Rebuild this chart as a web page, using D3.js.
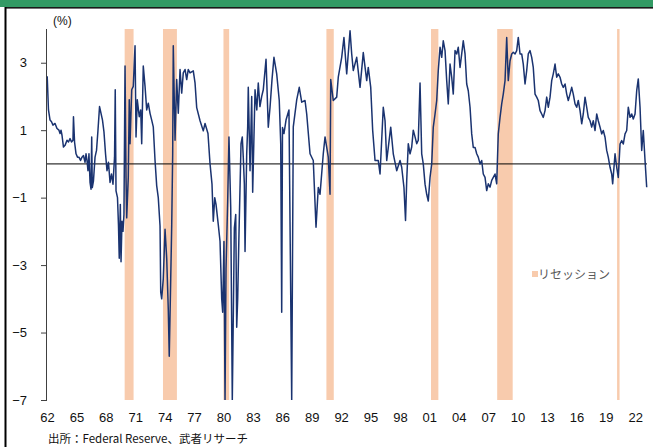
<!DOCTYPE html>
<html><head><meta charset="utf-8">
<script src="https://cdn.jsdelivr.net/npm/d3@7"></script>
<style>body{margin:0;background:#fff}svg{display:block}</style>
</head><body><svg id="c" width="653" height="447"></svg>
<script>
// decimal years
const dates = [1962.02,1962.15,1962.31,1962.46,1962.61,1962.82,1963.02,1963.22,1963.33,1963.43,1963.53,1963.68,1963.84,1964.04,1964.19,1964.35,1964.50,1964.65,1964.70,1964.81,1964.96,1965.11,1965.26,1965.42,1965.57,1965.72,1965.88,1965.98,1966.08,1966.18,1966.28,1966.39,1966.49,1966.56,1966.62,1966.74,1966.90,1967.05,1967.20,1967.36,1967.51,1967.66,1967.81,1967.97,1968.12,1968.27,1968.43,1968.58,1968.73,1968.89,1968.96,1969.04,1969.19,1969.29,1969.37,1969.48,1969.55,1969.65,1969.75,1969.85,1969.96,1970.06,1970.13,1970.29,1970.39,1970.47,1970.64,1970.80,1970.98,1971.08,1971.21,1971.41,1971.56,1971.66,1971.82,1972.00,1972.17,1972.33,1972.51,1972.68,1972.84,1973.02,1973.19,1973.35,1973.53,1973.60,1973.70,1973.86,1974.04,1974.21,1974.37,1974.47,1974.62,1974.72,1974.82,1974.88,1975.06,1975.23,1975.39,1975.57,1975.74,1975.90,1976.08,1976.25,1976.41,1976.59,1976.92,1977.10,1977.27,1977.61,1977.94,1978.12,1978.42,1978.63,1978.83,1978.96,1979.11,1979.24,1979.47,1979.65,1979.82,1979.92,1980.05,1980.16,1980.26,1980.43,1980.56,1980.74,1980.90,1981.11,1981.25,1981.35,1981.45,1981.58,1981.79,1981.92,1982.02,1982.13,1982.20,1982.37,1982.47,1982.53,1982.71,1982.88,1982.98,1983.22,1983.40,1983.55,1983.72,1983.90,1984.06,1984.34,1984.57,1984.75,1984.95,1985.15,1985.43,1985.69,1985.84,1985.94,1986.02,1986.17,1986.38,1986.68,1986.96,1987.12,1987.47,1987.73,1987.98,1988.32,1988.49,1988.83,1989.16,1989.44,1989.67,1989.85,1990.18,1990.36,1990.69,1990.87,1990.94,1991.20,1991.55,1991.71,1992.06,1992.29,1992.57,1992.91,1993.08,1993.24,1993.59,1993.93,1994.26,1994.61,1994.77,1995.02,1995.22,1995.46,1995.79,1995.97,1996.30,1996.48,1996.65,1997.06,1997.32,1997.67,1998.01,1998.18,1998.41,1998.57,1998.69,1998.85,1999.03,1999.20,1999.36,1999.54,1999.71,1999.87,2000.05,2000.22,2000.38,2000.56,2000.73,2000.89,2001.07,2001.24,2001.40,2001.58,2001.75,2001.91,2002.09,2002.26,2002.42,2002.60,2002.77,2002.93,2003.11,2003.28,2003.44,2003.62,2003.79,2003.95,2004.13,2004.30,2004.46,2004.64,2004.81,2004.97,2005.15,2005.32,2005.48,2005.66,2005.83,2005.99,2006.17,2006.34,2006.50,2006.68,2006.85,2007.01,2007.19,2007.36,2007.52,2007.70,2007.87,2008.03,2008.21,2008.38,2008.54,2008.72,2008.89,2009.05,2009.23,2009.40,2009.56,2009.74,2009.91,2010.07,2010.25,2010.42,2010.58,2010.76,2010.93,2011.09,2011.27,2011.44,2011.60,2011.78,2011.95,2012.11,2012.29,2012.46,2012.62,2012.80,2012.97,2013.13,2013.31,2013.48,2013.64,2013.82,2013.99,2014.15,2014.33,2014.50,2014.66,2014.84,2015.01,2015.17,2015.35,2015.52,2015.68,2015.86,2016.03,2016.19,2016.37,2016.54,2016.70,2016.88,2017.05,2017.21,2017.39,2017.56,2017.72,2017.90,2018.07,2018.23,2018.41,2018.58,2018.74,2018.92,2019.09,2019.25,2019.43,2019.60,2019.70,2019.94,2020.11,2020.27,2020.45,2020.62,2020.78,2020.96,2021.13,2021.29,2021.47,2021.64,2021.80,2021.98,2022.15,2022.31,2022.49,2022.66,2022.82,2023.00,2023.17];
const spread = [2.6,1.6,1.3,1.25,1.15,1.2,1.05,1.0,0.9,1.0,0.85,0.5,0.55,0.7,0.65,0.75,0.65,0.7,1.4,0.65,0.3,0.2,0.2,0.1,0.2,0.25,0.05,0.3,0.1,-0.2,0.3,-0.55,-0.75,0.8,-0.7,-0.5,0.2,0.4,1.0,1.7,1.5,1.3,0.95,0.3,-0.2,0.05,-0.55,-0.3,-0.6,0.2,2.2,-0.8,-1.0,-1.8,-2.8,-1.2,-2.9,-1.7,-2.0,-1.5,2.9,-0.4,-1.6,-0.4,1.9,0.6,2.2,2.3,3.5,0.8,1.9,1.4,1.6,0.6,2.9,2.3,1.6,1.8,1.5,1.3,1.1,0.1,-0.65,-1.0,-1.84,-3.8,-4.0,-3.4,-1.94,-2.8,-4.3,-5.7,-3.4,-1.84,0.3,3.5,0.7,2.5,1.5,2.8,2.1,2.7,2.8,2.5,2.8,2.7,2.76,2.4,1.67,1.28,0.98,1.2,0.9,0.0,-0.6,-1.7,-1.0,-1.2,-1.8,-2.3,-4.0,-4.4,-2.3,-7.0,-3.1,-1.1,0.8,-1.3,-7.0,-1.9,-1.5,-4.84,-4.0,-2.1,0.6,0.8,0.2,-0.6,-2.6,0.3,1.1,2.27,-0.2,2.0,-0.84,2.2,1.6,2.4,1.7,2.0,2.2,3.1,1.09,1.68,2.5,3.16,2.67,1.88,0.6,-4.4,1.08,0.9,1.3,1.6,-7.0,1.1,1.9,2.27,1.83,1.88,1.48,0.3,0.1,-1.88,-0.7,-0.9,0.3,0.8,0.2,-0.9,2.5,1.88,1.98,2.57,3.16,3.75,2.67,3.95,3.26,2.77,3.16,2.27,3.3,2.47,2.86,2.27,0.99,0.1,0.1,-0.3,1.68,1.28,0.1,1.09,0.3,-0.2,0.1,-0.1,-0.7,-1.68,-0.5,0.6,0.3,0.5,1.0,0.8,0.6,0.7,2.4,0.3,0.0,-0.6,-0.9,-1.1,-0.4,0.0,1.09,1.48,1.88,2.77,3.46,3.16,3.65,3.36,2.47,1.78,2.96,2.57,2.07,3.36,3.26,3.46,2.86,3.26,3.65,3.26,2.37,2.17,1.68,0.89,0.49,0.49,0.3,0.2,0.0,0.1,-0.3,-0.4,-0.79,-0.59,-0.69,-0.49,-0.4,-0.3,-0.59,0.89,1.38,1.78,2.07,2.47,3.75,2.47,3.06,3.26,3.31,3.26,3.36,3.75,3.26,3.26,2.96,2.37,2.77,3.26,3.36,3.16,2.86,2.07,1.98,1.88,1.58,1.48,1.38,1.58,1.98,1.68,1.98,2.47,2.67,2.96,2.57,2.67,2.57,2.37,2.27,2.37,2.07,1.88,2.07,2.27,2.07,1.78,1.68,1.88,1.58,1.19,1.48,1.98,1.68,1.38,1.28,1.09,1.28,0.99,1.48,1.28,1.09,0.89,0.99,0.79,0.4,0.2,-0.1,-0.3,-0.59,0.3,-0.1,-0.4,0.59,0.69,0.59,0.89,0.99,1.68,1.38,1.48,1.33,1.48,2.17,2.52,1.68,0.4,0.99,0.1,-0.69];
const recessionStart = [1969.92,1973.83,1980.0,1990.5,2001.17,2007.92,2020.15];
const recessionEnd   = [1970.83,1975.25,1980.58,1991.25,2001.92,2009.5,2020.4];
const yTicks = [3,1,-1,-3,-5,-7];
const xTickYears = [1962,1965,1968,1971,1974,1977,1980,1983,1986,1989,1992,1995,1998,2001,2004,2007,2010,2013,2016,2019,2022];
const xTickLabels = ["62","65","68","71","74","77","80","83","86","89","92","95","98","01","04","07","10","13","16","19","22"];
const unitLabel = "(%)";
const legendLabel = "リセッション";
const sourceLabel = "出所：Federal Reserve、武者リサーチ";

const svg = d3.select("#c");
const L = 47, R = 647, T = 29, B = 400;
const x = d3.scaleLinear().domain([1962, 2023.2]).range([L, R]);
const y = d3.scaleLinear().domain([-7, 4]).range([B, T]);

// frame pieces
svg.append("rect").attr("x",0).attr("y",0).attr("width",653).attr("height",7).attr("fill","#329a64");
svg.append("rect").attr("x",5).attr("y",7).attr("width",648).attr("height",1.6).attr("fill","#1a1a1a");
svg.append("rect").attr("x",4.5).attr("y",7).attr("width",2).attr("height",440).attr("fill","#000");

// recessions
const rec = recessionStart.map((s,i)=>({s, e: recessionEnd[i]}));
svg.append("g").selectAll("rect").data(rec).join("rect")
  .attr("x", d=>x(d.s)).attr("width", d=>Math.max(1.5, x(d.e)-x(d.s)))
  .attr("y", T).attr("height", B-T).attr("fill","#f8cbad");

// zero line
svg.append("line").attr("x1",L).attr("x2",R).attr("y1",y(0)).attr("y2",y(0))
  .attr("stroke","#000").attr("stroke-width",1);

// line
svg.append("clipPath").attr("id","cp").append("rect").attr("x",L).attr("y",T-1).attr("width",R-L+2).attr("height",B-T+1);
const data = dates.map((d,i)=>({d, v: spread[i]}));
svg.append("path").datum(data).attr("clip-path","url(#cp)")
  .attr("d", d3.line().x(p=>x(p.d)).y(p=>y(p.v)))
  .attr("fill","none").attr("stroke","#1a3370").attr("stroke-width",1.5).attr("stroke-linejoin","round");

// y axis
const ya = svg.append("g").attr("transform",`translate(${L},0)`)
  .call(d3.axisLeft(y).tickValues(yTicks).tickSize(6).tickPadding(14).tickFormat(d3.format("d")));
ya.select(".domain").attr("stroke","#404040").attr("d",`M-0.5,${T}V${B}`);
ya.selectAll(".tick line").attr("stroke","#404040");
ya.selectAll("text").attr("font-family","'Liberation Sans', Arial, sans-serif").attr("font-size",13).attr("fill","#111");

// x axis
const xa = svg.append("g").attr("transform",`translate(0,${B})`)
  .call(d3.axisBottom(x).tickValues(xTickYears).tickSize(0).tickPadding(13).tickFormat((d,i)=>xTickLabels[i]));
xa.select(".domain").remove();
xa.selectAll("text").attr("font-family","'Liberation Sans', Arial, sans-serif").attr("font-size",13).attr("fill","#111");

// unit
svg.append("text").attr("x",53).attr("y",25).text(unitLabel)
  .attr("font-family","'Liberation Sans', Arial, sans-serif").attr("font-size",12).attr("fill","#111");

// legend
svg.append("rect").attr("x",532).attr("y",271).attr("width",6).attr("height",6).attr("fill","#f8cbad");
svg.append("text").attr("x",538).attr("y",278.5).text(legendLabel)
  .attr("font-family","'Noto Sans CJK JP', sans-serif").attr("font-size",12).attr("fill","#595959");

// source
svg.append("text").attr("x",48).attr("y",443).text(sourceLabel)
  .attr("font-family","'Noto Sans CJK JP', sans-serif").attr("font-size",11.5).attr("fill","#111");
</script></body></html>
